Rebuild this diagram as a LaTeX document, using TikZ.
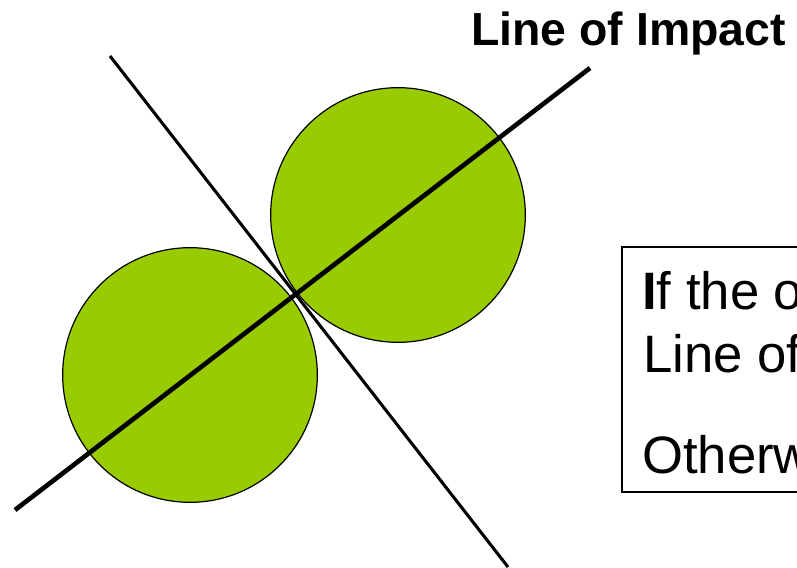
\documentclass[tikz,border=0pt]{standalone}
\usepackage{fontspec}
\setmainfont{Liberation Sans}
\definecolor{ballgreen}{RGB}{153,204,0}
\begin{document}
\begin{tikzpicture}[x=0.75pt,y=-0.75pt,
  ball/.style={circle,draw=black,line width=0.9pt,fill=ballgreen,inner sep=0pt,minimum size=191pt},
  impactline/.style={line width=3.5pt,black},
  tangentline/.style={line width=2.3pt,black},
  textbox/.style={draw=black,line width=1.2pt},
  titletext/.style={anchor=base west,inner sep=0pt,font=\fontsize{34.8}{40}\selectfont\bfseries},
  bodytext/.style={anchor=base west,inner sep=0pt,font=\fontsize{39.5}{46}\selectfont}]
\useasboundingbox (0,0) rectangle (797,568);
\clip (0,0) rectangle (797,568);
% balls
\node[ball] (b1) at (190,375) {};
\node[ball] (b2) at (398,215) {};
% lines
\coordinate (i1) at (15,510);
\coordinate (i2) at (590,68);
\coordinate (t1) at (110,56);
\coordinate (t2) at (508,567);
\draw[tangentline] (t1) -- (t2);
\draw[impactline] (i1) -- (i2);
% title
\node[titletext] (title) at (471,45) {Line of Impact};
% text box
\coordinate (bx1) at (622,247);
\coordinate (bx2) at (820,492);
\draw[textbox] (bx1) rectangle (bx2);
\node[bodytext] (l1) at (642,309) {\textbf{I}f the o};
\node[bodytext] (l2) at (643,372) {Line of};
\node[bodytext] (l3) at (642,473) {Otherw};
\end{tikzpicture}
\end{document}
